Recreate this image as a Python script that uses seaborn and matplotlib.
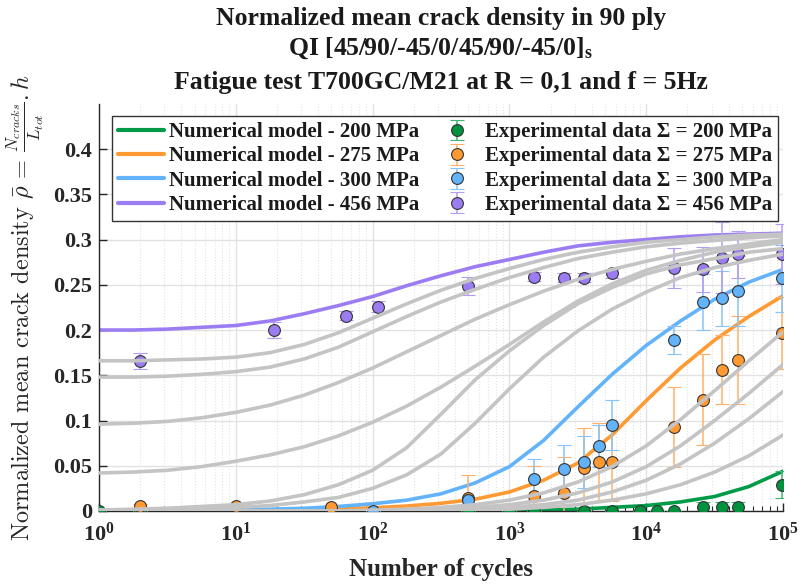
import matplotlib
matplotlib.use("Agg")
import matplotlib.pyplot as plt
from matplotlib.lines import Line2D
from matplotlib.ticker import FixedLocator, FuncFormatter, NullFormatter
import numpy as np
import pandas as pd
import seaborn as sns

# ---------------------------------------------------------------- data
# model curves, read every quarter decade
cycles = [1, 1.778, 3.162, 5.623, 10, 17.78, 31.62, 56.23, 100, 177.8, 316.2, 562.3,
          1000, 1778, 3162, 5623, 10000, 17783, 31623, 56234, 100000]

model_200 = [0, 0, 0, 0, 0, 0, 0, 0, 0, 0, 0, 0,
             0.001, 0.001, 0.002, 0.004, 0.006, 0.010, 0.016, 0.027, 0.044]
model_275 = [0, 0, 0, 0.001, 0.001, 0.001, 0.001, 0.002, 0.0035, 0.0055, 0.0085, 0.013,
             0.021, 0.034, 0.053, 0.084, 0.122, 0.158, 0.189, 0.215, 0.238]
model_300 = [0, 0, 0.001, 0.001, 0.001, 0.002, 0.003, 0.005, 0.008, 0.012, 0.019, 0.031,
             0.049, 0.078, 0.115, 0.151, 0.183, 0.210, 0.234, 0.253, 0.267]
model_456 = [0.200, 0.200, 0.201, 0.203, 0.205, 0.210, 0.218, 0.227, 0.237, 0.249, 0.260, 0.270,
             0.278, 0.286, 0.293, 0.297, 0.300, 0.303, 0.305, 0.306, 0.307]

gray_a = [0.166, 0.166, 0.167, 0.168, 0.170, 0.175, 0.184, 0.197, 0.213, 0.229, 0.244, 0.257,
          0.268, 0.278, 0.286, 0.292, 0.297, 0.300, 0.303, 0.305, 0.306]
gray_b = [0.148, 0.148, 0.149, 0.151, 0.154, 0.159, 0.168, 0.181, 0.198, 0.215, 0.231, 0.245,
          0.258, 0.269, 0.279, 0.286, 0.292, 0.296, 0.299, 0.302, 0.304]
gray_c = [0.096, 0.097, 0.099, 0.103, 0.109, 0.117, 0.128, 0.142, 0.158, 0.176, 0.194, 0.212,
          0.228, 0.243, 0.256, 0.267, 0.276, 0.284, 0.290, 0.295, 0.300]
gray_d = [0.042, 0.043, 0.045, 0.049, 0.055, 0.062, 0.071, 0.083, 0.098, 0.116, 0.137, 0.160,
          0.184, 0.209, 0.232, 0.251, 0.266, 0.277, 0.286, 0.292, 0.297]
gray_e = [0.001, 0.002, 0.003, 0.005, 0.007, 0.011, 0.018, 0.029, 0.045, 0.070, 0.107, 0.145,
          0.177, 0.205, 0.229, 0.247, 0.262, 0.272, 0.279, 0.286, 0.290]
gray_f = [0.001, 0.001, 0.002, 0.003, 0.004, 0.006, 0.010, 0.015, 0.025, 0.040, 0.063, 0.097,
          0.135, 0.170, 0.199, 0.223, 0.242, 0.258, 0.269, 0.277, 0.284]
gray_g = [0, 0, 0, 0, 0, 0, 0, 0, 0.001, 0.002, 0.004, 0.007,
          0.012, 0.020, 0.032, 0.049, 0.072, 0.101, 0.133, 0.166, 0.198]
gray_h = [0, 0, 0, 0, 0, 0, 0, 0, 0, 0.001, 0.002, 0.004,
          0.007, 0.012, 0.020, 0.032, 0.049, 0.072, 0.100, 0.130, 0.162]
gray_i = [0, 0, 0, 0, 0, 0, 0, 0, 0, 0, 0.001, 0.002,
          0.004, 0.007, 0.012, 0.021, 0.034, 0.052, 0.075, 0.102, 0.132]
gray_j = [0, 0, 0, 0, 0, 0, 0, 0, 0, 0, 0, 0.001,
          0.002, 0.004, 0.007, 0.012, 0.019, 0.029, 0.043, 0.061, 0.084]

# experimental points: cycles, mean, half error bar
exp_200_n = [1, 2, 500, 1000, 1500, 3500, 5600, 9000, 12000, 16000, 26000, 36000, 46500, 98000]
exp_200_rho = [0, 0, 0, 0, 0, 0, 0, 0, 0, 0, 0.004, 0.004, 0.004, 0.029]
exp_200_err = [0, 0, 0, 0, 0, 0, 0, 0, 0, 0, 0.006, 0.006, 0.006, 0.015]

exp_275_n = [2, 10, 50, 500, 1500, 2500, 3500, 4500, 5600, 16000, 26000, 36000, 46500, 98000]
exp_275_rho = [0.005, 0.005, 0.004, 0.014, 0.017, 0.020, 0.047, 0.054, 0.054,
               0.093, 0.123, 0.156, 0.167, 0.197]
exp_275_err = [0.003, 0.003, 0.002, 0.026, 0.033, 0.040, 0.045, 0.043, 0.043,
               0.044, 0.050, 0.038, 0.049, 0.040]

exp_300_n = [100, 500, 1500, 2500, 3500, 4500, 5600, 16000, 26000, 36000, 46500, 98000]
exp_300_rho = [0, 0.012, 0.035, 0.046, 0.054, 0.072, 0.095, 0.189, 0.231, 0.235, 0.243, 0.257]
exp_300_err = [0, 0.004, 0.023, 0.027, 0.029, 0.023, 0.028, 0.015, 0.031, 0.030, 0.039, 0.037]

exp_456_n = [2, 19, 64, 110, 500, 1500, 2500, 3500, 5600, 16000, 26000, 36000, 46500, 98000]
exp_456_rho = [0.166, 0.200, 0.216, 0.226, 0.249, 0.259, 0.258, 0.258, 0.263,
               0.269, 0.267, 0.280, 0.284, 0.284]
exp_456_err = [0.009, 0.009, 0.005, 0.006, 0.010, 0.005, 0.005, 0.005, 0.005,
               0.022, 0.025, 0.039, 0.026, 0.033]

stress_labels = ["200", "275", "300", "456"]
line_colors = ["#009B48", "#FF9A33", "#63B3FB", "#9C7CF2"]
marker_colors = ["#00923F", "#FF9A33", "#63B3FB", "#9C7CF2"]
err_colors = ["#3DB56E", "#FFB066", "#86C4FB", "#B49CF5"]
GRAY = "#C4C4C4"
INK = "#262626"

# ---------------------------------------------------------------- style
sns.set_theme(style="white")
plt.rcParams.update({
    "font.family": ["Liberation Serif", "DejaVu Serif"],
    "font.weight": "bold",
    "mathtext.fontset": "custom",
    "mathtext.rm": "Liberation Serif:bold",
    "mathtext.bf": "Liberation Serif:bold",
    "mathtext.it": "Liberation Serif:italic:bold",
    "axes.unicode_minus": False,
    "text.color": "#1A1A1A",
})

fig = plt.figure(figsize=(8.04, 5.85), dpi=100)
ax = fig.add_axes([0.123, 0.1265, 0.851, 0.696])

model_df = pd.DataFrame({
    "cycles": cycles * 4,
    "rho": model_200 + model_275 + model_300 + model_456,
    "stress": sum([[s] * len(cycles) for s in stress_labels], []),
})
grays = [gray_a, gray_b, gray_c, gray_d, gray_e, gray_f, gray_g, gray_h, gray_i, gray_j]
gray_df = pd.DataFrame({
    "cycles": cycles * len(grays),
    "rho": sum(grays, []),
    "curve": sum([[i] * len(cycles) for i in range(len(grays))], []),
})

sns.lineplot(data=model_df, x="cycles", y="rho", hue="stress", palette=line_colors,
             estimator=None, linewidth=2.6, legend=False, ax=ax, zorder=2)

exps = [(exp_200_n, exp_200_rho, exp_200_err), (exp_275_n, exp_275_rho, exp_275_err),
        (exp_300_n, exp_300_rho, exp_300_err), (exp_456_n, exp_456_rho, exp_456_err)]
err_handles = []
for (n, r, e), mc, ec in zip(exps, marker_colors, err_colors):
    h = ax.errorbar(n, r, yerr=e, fmt="o", ms=8.5, mfc=mc, mec="#333333", mew=0.8,
                    ecolor=ec, elinewidth=1.1, capsize=5, capthick=1.1, zorder=3)
    err_handles.append(h)

sns.lineplot(data=gray_df, x="cycles", y="rho", units="curve", estimator=None,
             color=GRAY, linewidth=2.6, legend=False, ax=ax, zorder=4)

ax.set_xscale("log")
ax.set_xlim(1, 1e5)
ax.set_ylim(0, 0.45)

ax.xaxis.set_major_locator(FixedLocator([1, 10, 100, 1000, 10000, 100000]))
ax.xaxis.set_major_formatter(FuncFormatter(
    lambda v, p: r"$\mathbf{10^{%d}}$" % round(np.log10(v))))
minor = [m * 10 ** d for d in range(5) for m in range(2, 10)]
ax.xaxis.set_minor_locator(FixedLocator(minor))
ax.xaxis.set_minor_formatter(NullFormatter())
ax.yaxis.set_major_locator(FixedLocator([0, 0.05, 0.1, 0.15, 0.2, 0.25, 0.3, 0.35, 0.4]))
ax.yaxis.set_major_formatter(FuncFormatter(lambda v, p: "%g" % v))

ax.grid(which="major", color="#E2E2E2", linewidth=1.0, linestyle="-")
ax.grid(which="minor", axis="x", color="#E2E2E2", linewidth=0.8, linestyle=":")
ax.set_axisbelow(True)
for s in ["top", "right"]:
    ax.spines[s].set_visible(False)
for s in ["left", "bottom"]:
    ax.spines[s].set_color(INK)
    ax.spines[s].set_linewidth(1.0)
ax.tick_params(axis="both", which="major", direction="in", length=6, width=1,
               colors=INK, labelsize=16)
ax.tick_params(axis="y", which="major", pad=5)
ax.tick_params(axis="x", which="major", pad=8)
ax.tick_params(axis="x", which="minor", direction="in", length=3.5, width=0.8,
               colors=INK, bottom=True)
ax.tick_params(axis="y", which="both", left=True)
ax.tick_params(axis="x", which="both", bottom=True)
for lab in ax.get_yticklabels():
    lab.set_fontweight("bold")

ax.set_xlabel("Number of cycles", fontsize=18, fontweight="bold", color=INK, labelpad=9)
ax.set_ylabel(r"Normalized mean crack density $\bar{\rho}\,=\,\frac{N_{cracks}}{L_{tot}}.h$",
              fontsize=17.5, fontweight="normal", family="cmr10", math_fontfamily="cm",
              color=INK, labelpad=5)

fig.text(0.548, 0.969, "Normalized mean crack density in 90 ply",
         ha="center", va="center", fontsize=18.5, fontweight="bold")
fig.text(0.548, 0.917, r"QI [45/90/-45/0/45/90/-45/0]$_\mathbf{s}$",
         ha="center", va="center", fontsize=18.5, fontweight="bold")
fig.text(0.548, 0.859, "Fatigue test T700GC/M21 at R = 0,1 and f = 5Hz",
         ha="center", va="center", fontsize=18.5, fontweight="bold")

line_handles = [Line2D([], [], color=c, linewidth=3) for c in line_colors]
labels = ["Numerical model - %s MPa" % s for s in stress_labels] + \
         ["Experimental data \u03a3 = %s MPa" % s for s in stress_labels]
leg = ax.legend(line_handles + err_handles, labels, ncol=2, loc="upper left",
                bbox_to_anchor=(0.019, 0.97), borderaxespad=0, frameon=True, fancybox=False,
                prop={"family": "Liberation Serif", "weight": "bold", "size": 15},
                handlelength=2.2, labelspacing=0.2, columnspacing=0.7,
                handletextpad=0.25, borderpad=0.3)
leg.get_frame().set_edgecolor("#333333")
leg.get_frame().set_linewidth(1.0)
leg.get_frame().set_facecolor("white")
leg.get_frame().set_alpha(1)
leg.set_zorder(10)

fig.savefig("out.png", dpi=100)
